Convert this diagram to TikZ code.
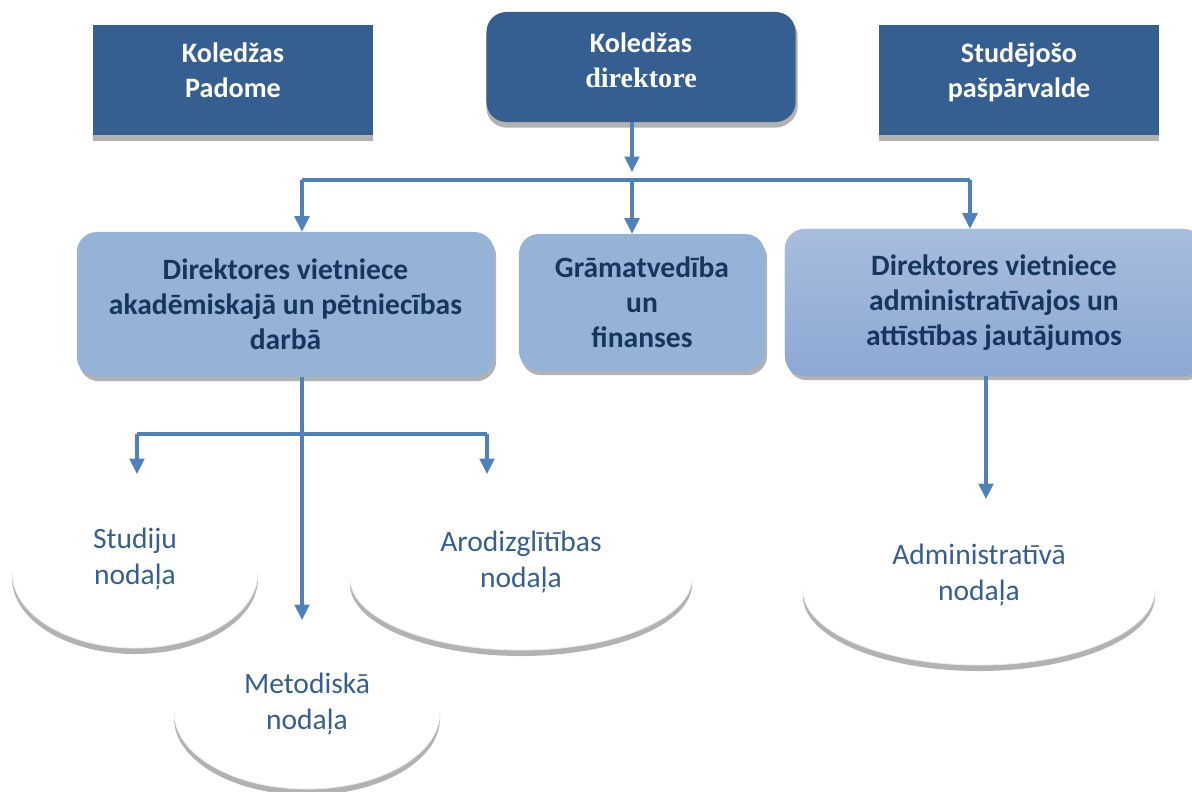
\documentclass[tikz,border=0pt]{standalone}
\usepackage{fontspec}
\setmainfont{Carlito}
\newfontfamily\timesfont{Liberation Serif}
\usetikzlibrary{arrows.meta,shadows}

\definecolor{darkbox}{RGB}{54,95,145}
\definecolor{lightbox}{RGB}{149,179,215}
\definecolor{navytext}{RGB}{23,54,93}
\definecolor{linkblue}{RGB}{79,129,189}
\definecolor{gradtop}{RGB}{168,189,222}
\definecolor{gradbot}{RGB}{141,168,211}
\definecolor{ovaltext}{RGB}{54,95,145}

\begin{document}
\begin{tikzpicture}[
  x=0.025cm, y=0.025cm,
  every node/.style={align=center},
  topbox/.style={fill=darkbox,text=white,font=\bfseries\fontsize{20}{25}\selectfont,
    minimum width=7cm,minimum height=2.75cm,text depth=14pt,
    drop shadow={shadow xshift=0pt,shadow yshift=-4pt,fill=gray!60,opacity=1}},
  subbox/.style={fill=lightbox,text=navytext,rounded corners=0.5cm,
    font=\bfseries\fontsize{21}{25}\selectfont,
    drop shadow={shadow xshift=1.5pt,shadow yshift=-3pt,fill=gray!60,opacity=1}},
  oval/.style={text=ovaltext,font=\fontsize{21}{26}\selectfont},
  ovalshadow/.style={fill=gray!60},
  ovalface/.style={fill=white,draw=gray!15,line width=0.6pt},
  conn/.style={draw=linkblue,line width=2.2pt},
  arr/.style={conn,-{Triangle[length=11pt,width=10.5pt]}}
]
\clip (0,0) rectangle (1192,791);

% ============================================================
% TOP ROW
% ============================================================

\node[topbox] (padome) at (233,711) {Koledžas\\Padome};
\node[topbox,rounded corners=0.5cm,minimum width=7.725cm,text depth=10pt,
      drop shadow={shadow xshift=1.5pt,shadow yshift=-3pt,fill=gray!60,opacity=1}]
      (direktore) at (641,724) {Koledžas\\{\timesfont direktore}};
\node[topbox] (pasparvalde) at (1019,711) {Studējošo\\pašpārvalde};

% ============================================================
% SECOND ROW
% ============================================================

\node[subbox,minimum width=10.425cm,minimum height=3.625cm] (akad) at (285.5,486.5)
  {Direktores vietniece\\akadēmiskajā un pētniecības\\darbā};
\node[subbox,minimum width=6.15cm,minimum height=3.425cm] (gram) at (642,488.5)
  {Grāmatvedība\\un\\finanses};
\node[subbox,top color=gradtop,bottom color=gradbot,minimum width=10.45cm,
      minimum height=3.675cm] (admvietn) at (994,488.5)
  {Direktores vietniece\\administratīvajos un\\attīstības jautājumos};

% connectors from director
\coordinate (split) at (632,611);
\coordinate (busL) at (302,611);
\coordinate (busR) at (970,611);
\draw[arr] (direktore.south -| split) -- (632,619);
\draw[conn] (busL) -- (busR);
\draw[arr] (busL) -- (busL |- akad.north);
\draw[arr] (split) -- (split |- gram.north);
\draw[arr] (busR) -- (busR |- admvietn.north);

% ============================================================
% DEPARTMENTS (half ovals)
% ============================================================

\fill[ovalshadow] (135,213) ++(-3.075cm,0) arc[start angle=180,end angle=360,x radius=3.075cm,y radius=1.9cm] -- cycle;
\filldraw[ovalface] (135,219) ++(-3.075cm,0) arc[start angle=180,end angle=360,x radius=3.075cm,y radius=1.9cm];
\fill[ovalshadow] (307,73) ++(-3.325cm,0) arc[start angle=180,end angle=360,x radius=3.325cm,y radius=1.925cm] -- cycle;
\filldraw[ovalface] (307,79) ++(-3.325cm,0) arc[start angle=180,end angle=360,x radius=3.325cm,y radius=1.925cm];
\fill[ovalshadow] (521,207) ++(-4.275cm,0) arc[start angle=180,end angle=360,x radius=4.275cm,y radius=1.8cm] -- cycle;
\filldraw[ovalface] (521,213) ++(-4.275cm,0) arc[start angle=180,end angle=360,x radius=4.275cm,y radius=1.8cm];
\fill[ovalshadow] (979,195) ++(-4.4cm,0) arc[start angle=180,end angle=360,x radius=4.4cm,y radius=1.875cm] -- cycle;
\filldraw[ovalface] (979,201) ++(-4.4cm,0) arc[start angle=180,end angle=360,x radius=4.4cm,y radius=1.875cm];

\node[oval] (studiju) at (135,232) {Studiju\\nodaļa};
\node[oval] (metod) at (307,87) {Metodiskā\\nodaļa};
\node[oval] (arodizgl) at (521,229) {Arodizglītības\\nodaļa};
\node[oval] (administr) at (979,216) {Administratīvā\\nodaļa};

% connectors to departments
\coordinate (sub) at (302,357);
\coordinate (subL) at (137,357);
\coordinate (subR) at (487,357);
\draw[conn] (subL) -- (subR);
\draw[arr] (akad.south -| sub) -- (302,171);
\draw[arr] (subL) -- (137,317);
\draw[arr] (subR) -- (487,317);
\draw[arr] (admvietn.south -| 986,0) -- (986,292);

\end{tikzpicture}
\end{document}
